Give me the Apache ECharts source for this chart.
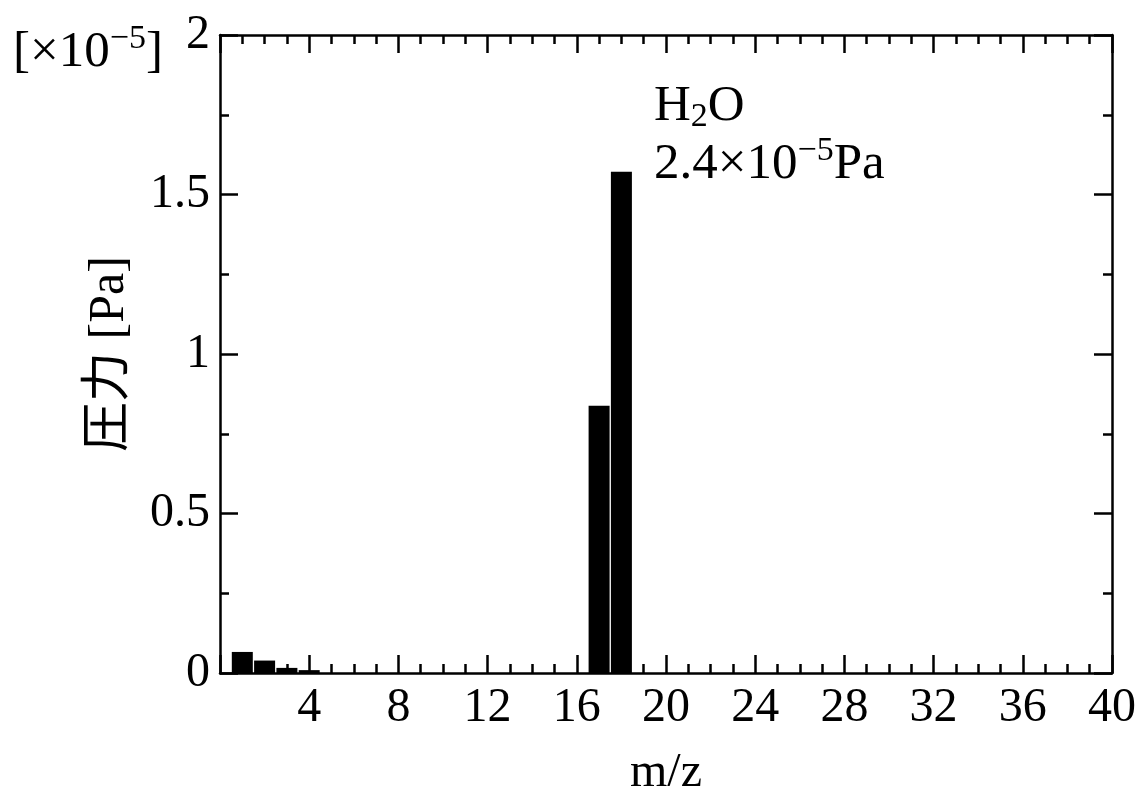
<!DOCTYPE html>
<html>
<head>
<meta charset="utf-8">
<script src="https://cdn.jsdelivr.net/npm/echarts@6/dist/echarts.min.js"></script>
<style>
  html, body { margin: 0; padding: 0; background: #fff; }
  #chart { width: 1145px; height: 795px; }
</style>
</head>
<body>
<div id="chart"></div>
<script>
// m/z channels and measured pressure (units of 1e-5 Pa)
const massNumbers = [1, 2, 3, 4, 17, 18];
const pressures = [0.066, 0.039, 0.016, 0.009, 0.838, 1.571];
const xTicks = [0, 40, 4];      // min, max, interval
const yTicks = [0, 2, 0.5];

const serif = "'Liberation Serif', 'Times New Roman', 'Noto Sans CJK JP', serif";
const fs = 48;
const fsNote = 51;

const chart = echarts.init(document.getElementById('chart'));

const axisBase = {
  axisLine: { show: true, onZero: false, lineStyle: { color: '#000', width: 2.5 } },
  axisTick: { show: true, inside: true, length: 18, lineStyle: { color: '#000', width: 2.5 } },
  minorTick: { show: true, length: 9, lineStyle: { color: '#000', width: 2.5 } },
  splitLine: { show: false },
  minorSplitLine: { show: false }
};

const option = {
  animation: false,
  backgroundColor: '#fff',
  grid: { left: 220, right: 33, top: 35, bottom: 122, containLabel: false, outerBoundsMode: 'none' },
  xAxis: [
    Object.assign({}, axisBase, {
      type: 'value', position: 'bottom',
      min: xTicks[0], max: xTicks[1], interval: xTicks[2],
      minorTick: Object.assign({}, axisBase.minorTick, { splitNumber: 4 }),
      axisLabel: {
        color: '#000', fontFamily: serif, fontSize: fs, margin: 11,
        formatter: v => (v === 0 ? '' : String(v))
      },
      name: 'm/z', nameLocation: 'middle', nameGap: 76,
      nameTextStyle: { color: '#000', fontFamily: serif, fontSize: fs }
    }),
    Object.assign({}, axisBase, {
      type: 'value', position: 'top',
      min: xTicks[0], max: xTicks[1], interval: xTicks[2],
      minorTick: Object.assign({}, axisBase.minorTick, { splitNumber: 4 }),
      axisLabel: { show: false }
    })
  ],
  yAxis: [
    Object.assign({}, axisBase, {
      type: 'value', position: 'left',
      min: yTicks[0], max: yTicks[1], interval: yTicks[2],
      minorTick: Object.assign({}, axisBase.minorTick, { splitNumber: 2 }),
      axisLabel: { color: '#000', fontFamily: serif, fontSize: fs, margin: 10 },
      name: '圧力 [Pa]', nameLocation: 'middle', nameGap: 85,
      nameTextStyle: { color: '#000', fontFamily: serif, fontSize: 50 }
    }),
    Object.assign({}, axisBase, {
      type: 'value', position: 'right',
      min: yTicks[0], max: yTicks[1], interval: yTicks[2],
      minorTick: Object.assign({}, axisBase.minorTick, { splitNumber: 2 }),
      axisLabel: { show: false }
    })
  ],
  series: [
    {
      type: 'bar',
      xAxisIndex: 0,
      yAxisIndex: 0,
      barWidth: 21,
      itemStyle: { color: '#000' },
      data: massNumbers.map((m, i) => [m, pressures[i]])
    }
  ],
  graphic: [
    {
      type: 'text', left: 13, top: 22,
      style: {
        text: '[×10{sup|−5}]',
        fill: '#000', font: fsNote + 'px ' + serif,
        rich: { sup: { fontSize: 34, fontFamily: serif, verticalAlign: 'bottom', padding: [0, 0, 28, 0] } }
      }
    },
    {
      type: 'text', left: 654, top: 81,
      style: {
        text: 'H{sub|2}O',
        fill: '#000', font: fsNote + 'px ' + serif,
        rich: { sub: { fontSize: 34, fontFamily: serif, verticalAlign: 'top', padding: [22, 0, 0, 0] } }
      }
    },
    {
      type: 'text', left: 654, top: 134,
      style: {
        text: '2.4×10{sup|−5}Pa',
        fill: '#000', font: fsNote + 'px ' + serif,
        rich: { sup: { fontSize: 34, fontFamily: serif, verticalAlign: 'bottom', padding: [0, 0, 28, 0] } }
      }
    }
  ]
};

chart.setOption(option);
</script>
</body>
</html>
